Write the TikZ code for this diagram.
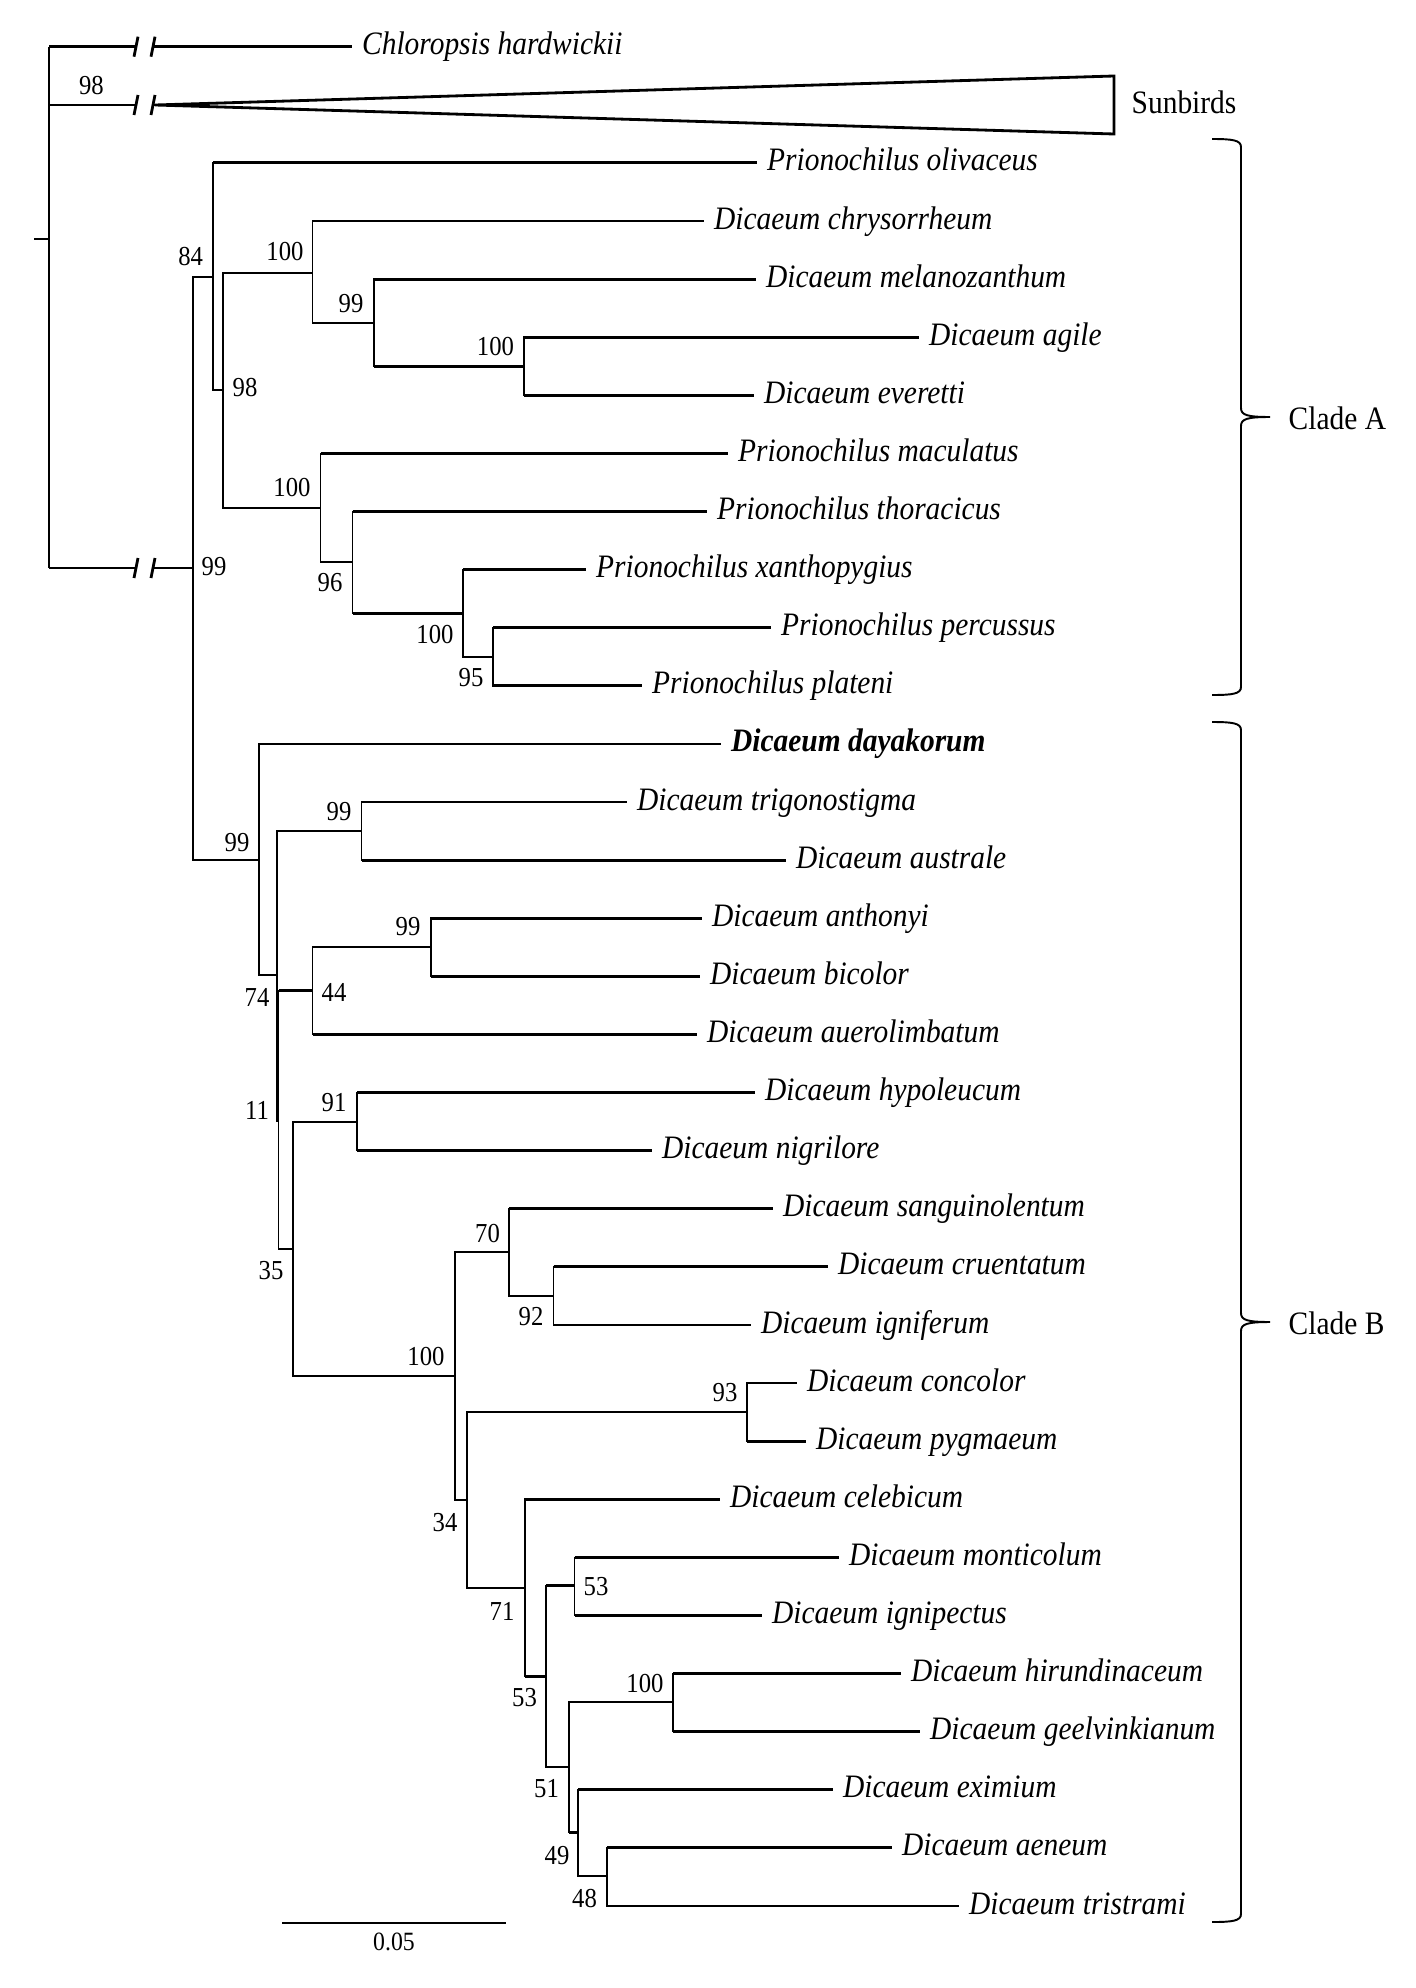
\documentclass[tikz,border=0pt]{standalone}
\usepackage{fontspec}
\setmainfont{Liberation Serif}[FakeStretch=0.9]

\begin{document}
\begin{tikzpicture}[x=0.01cm,y=-0.01cm,
 tax/.style={anchor=west,inner xsep=2.7pt,inner ysep=0pt,text height=4.6pt,text depth=0pt,font=\fontsize{9.3}{11}\selectfont\itshape},
 grp/.style={anchor=west,inner sep=0pt,font=\fontsize{9.3}{11}\selectfont},
 bs/.style={inner sep=0pt,font=\fontsize{7.8}{9}\selectfont},
 hl/.style={line width=0.8pt},
 vl/.style={line width=0.45pt},
 brc/.style={line width=0.55pt}]
\useasboundingbox (0,0) rectangle (1416,1988);

% tips: name / branch end / row / label
\foreach \tp/\xe/\rw/\nm in {chl/352/0/Chloropsis hardwickii,
 olivaceus/757/2/Prionochilus olivaceus, chrysorrheum/704/3/Dicaeum chrysorrheum,
 melanozanthum/756/4/Dicaeum melanozanthum, agile/919/5/Dicaeum agile,
 everetti/754/6/Dicaeum everetti, maculatus/728/7/Prionochilus maculatus,
 thoracicus/707/8/Prionochilus thoracicus, xanthopygius/586/9/Prionochilus xanthopygius,
 percussus/771/10/Prionochilus percussus, plateni/642/11/Prionochilus plateni,
 dayakorum/721/12/{\bfseries Dicaeum dayakorum}, trigonostigma/627/13/Dicaeum trigonostigma,
 australe/786/14/Dicaeum australe, anthonyi/702/15/Dicaeum anthonyi,
 bicolor/700/16/Dicaeum bicolor, auerolimbatum/697/17/Dicaeum auerolimbatum,
 hypoleucum/755/18/Dicaeum hypoleucum, nigrilore/652/19/Dicaeum nigrilore,
 sanguinolentum/773/20/Dicaeum sanguinolentum, cruentatum/828/21/Dicaeum cruentatum,
 igniferum/751/22/Dicaeum igniferum, concolor/797/23/Dicaeum concolor,
 pygmaeum/806/24/Dicaeum pygmaeum, celebicum/720/25/Dicaeum celebicum,
 monticolum/839/26/Dicaeum monticolum, ignipectus/762/27/Dicaeum ignipectus,
 hirundinaceum/901/28/Dicaeum hirundinaceum, geelvinkianum/920/29/Dicaeum geelvinkianum,
 eximium/833/30/Dicaeum eximium, aeneum/892/31/Dicaeum aeneum,
 tristrami/959/32/Dicaeum tristrami}
  \node[tax] (\tp) at (\xe,{46.7+58.1*\rw}) {\nm};

% internal nodes
\coordinate (stub) at (34,239);
\coordinate (root) at (49,239);
\coordinate (apex) at (155,105);
\coordinate (brk) at (136,0);
\coordinate (nIn) at (193,568);
\coordinate (nA) at (213,277);
\coordinate (nA2) at (223,390);
\coordinate (nChr) at (312.5,273);
\coordinate (nMel) at (374,323);
\coordinate (nAg) at (524,366.5);
\coordinate (nPr) at (320.5,508);
\coordinate (nTho) at (352.7,562);
\coordinate (nXan) at (463,613.5);
\coordinate (nPer) at (493,657);
\coordinate (nB) at (259,860);
\coordinate (n74) at (277,975);
\coordinate (nTri) at (361.6,831);
\coordinate (n11) at (278.5,1121);
\coordinate (n44) at (312.5,990.5);
\coordinate (nAnt) at (431,947);
\coordinate (n35) at (293,1249);
\coordinate (n91) at (357,1122);
\coordinate (n100f) at (455,1376);
\coordinate (n70) at (509,1252);
\coordinate (n92) at (553.6,1296);
\coordinate (n34) at (467,1500);
\coordinate (n93) at (747,1412);
\coordinate (n71) at (525,1588);
\coordinate (n53a) at (574.5,1585.5);
\coordinate (n53b) at (546,1676.5);
\coordinate (n51) at (569,1767);
\coordinate (n100g) at (673,1702);
\coordinate (n49) at (578,1832.5);
\coordinate (n48) at (607,1876);

% root and broken branches
\draw[hl] (stub) -- (root);
\draw[vl] (root |- chl) -- (root |- nIn);
\foreach \c in {chl,apex,nIn}{
  \draw[hl] (root |- \c) -- (brk |- \c) ++(17,0) -- (\c);
  \draw[hl] (brk |- \c) ++(-2,10) -- ++(4,-20) ++(13,20) -- ++(4,-20);
}
\draw[hl] (apex) -- (1114,76) -- (1114,134) -- cycle;
\node[grp] (sun) at (1131,102) {Sunbirds};

% branches
\foreach \p/\c in {nIn/nA, nIn/nB, nA/olivaceus, nA/nA2, nA2/nChr, nA2/nPr,
 nChr/chrysorrheum, nChr/nMel, nMel/melanozanthum, nMel/nAg, nAg/agile, nAg/everetti,
 nPr/maculatus, nPr/nTho, nTho/thoracicus, nTho/nXan, nXan/xanthopygius, nXan/nPer,
 nPer/percussus, nPer/plateni, nB/dayakorum, nB/n74, n74/nTri, n74/n11,
 nTri/trigonostigma, nTri/australe, n11/n44, n11/n35, n44/nAnt, n44/auerolimbatum,
 nAnt/anthonyi, nAnt/bicolor, n35/n91, n35/n100f, n91/hypoleucum, n91/nigrilore,
 n100f/n70, n100f/n34, n70/sanguinolentum, n70/n92, n92/cruentatum, n92/igniferum,
 n34/n93, n34/n71, n93/concolor, n93/pygmaeum, n71/celebicum, n71/n53b,
 n53b/n53a, n53b/n51, n53a/monticolum, n53a/ignipectus, n51/n100g, n51/n49,
 n100g/hirundinaceum, n100g/geelvinkianum, n49/eximium, n49/n48,
 n48/aeneum, n48/tristrami}{
  \draw[vl] (\p) |- (\c);
  \draw[hl] (\p |- \c) -- (\c);
}

% bootstrap values
\foreach \xb/\yb/\v [count=\i] in {91.5/86/98, 190.6/257/84, 285/252/100, 351/304/99,
 495.5/347/100, 245/388/98, 214/567/99, 292/488/100, 330/583/96, 435/635/100,
 471/678/95, 237/843/99, 339/812/99, 257/997/74, 334/992/44, 408/927/99,
 257/1110/11, 334/1103/91, 271/1271/35, 487.5/1233/70, 531/1317/92, 426/1356/100,
 445/1523/34, 725/1393/93, 502/1611/71, 596/1587/53, 524.5/1698/53, 645/1683/100,
 546.5/1789/51, 557/1856/49, 584.5/1898/48}
  \node[bs] (bs\i) at (\xb,\yb) {\v};

% clade braces
\foreach \ta/\tb [evaluate=\ta as \tm using (\ta+\tb)/2] in {139/695, 722/1922}
  \draw[brc] (1212,\ta) .. controls (1232,\ta) and (1241,{\ta+1}) .. (1241,{\ta+8})
    -- (1241,{\tm-9}) .. controls (1241,{\tm-2}) and (1247,\tm) .. (1270,\tm)
    .. controls (1247,\tm) and (1241,{\tm+2}) .. (1241,{\tm+9})
    -- (1241,{\tb-8}) .. controls (1241,{\tb-1}) and (1232,\tb) .. (1212,\tb);
\node[grp] (cladeA) at (1288,418) {Clade A};
\node[grp] (cladeB) at (1288,1323) {Clade B};

% scale bar
\coordinate (sb1) at (282,1923);
\coordinate (sb2) at (506,1923);
\draw[line width=0.8pt] (sb1) -- (sb2) node[midway,below=2.5pt,inner sep=0pt,font=\fontsize{7.5}{9}\selectfont] (sblab) {0.05};
\end{tikzpicture}
\end{document}
